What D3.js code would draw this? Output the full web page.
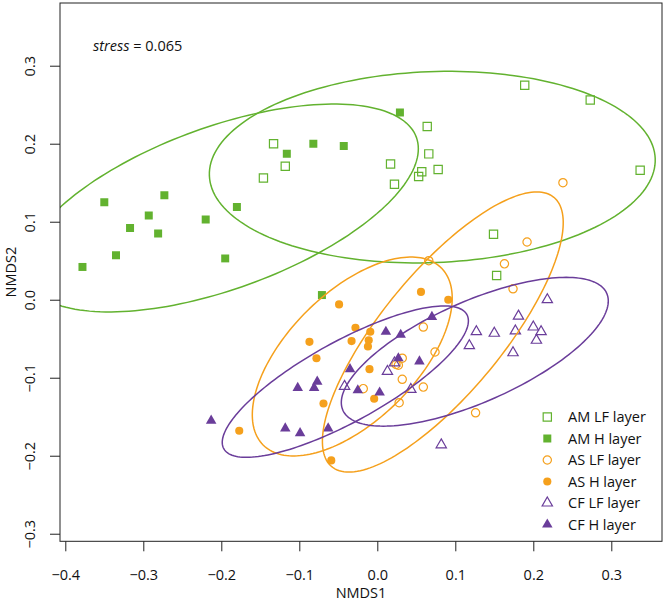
<!DOCTYPE html>
<html><head><meta charset="utf-8">
<script src="https://cdn.jsdelivr.net/npm/d3@7"></script>
<style>body{margin:0;background:#fff}svg{display:block}</style>
</head><body>
<svg id="chart" width="666" height="604"></svg>
<script>
// ---------- data ----------
const groups = ["AM LF layer","AM H layer","AS LF layer","AS H layer","CF LF layer","CF H layer"];

const amLF_x = [-0.133,-0.118,-0.146,0.064,0.066,0.017,0.057,0.053,0.078,0.022,0.189,0.273,0.337,0.149,0.153];
const amLF_y = [0.200,0.171,0.156,0.222,0.187,0.174,0.164,0.158,0.167,0.148,0.275,0.256,0.166,0.084,0.031];

const amH_x = [-0.378,-0.350,-0.335,-0.317,-0.293,-0.281,-0.273,-0.220,-0.195,-0.180,-0.116,-0.082,-0.071,0.029,-0.043];
const amH_y = [0.042,0.125,0.057,0.092,0.108,0.085,0.134,0.103,0.053,0.119,0.187,0.200,0.006,0.240,0.197];

const asLF_x = [0.238,0.192,0.163,0.174,0.066,0.059,0.074,0.032,0.024,0.027,0.032,-0.018,0.059,0.028,0.126];
const asLF_y = [0.150,0.074,0.046,0.014,0.050,-0.035,-0.067,-0.075,-0.083,-0.084,-0.102,-0.114,-0.112,-0.132,-0.145];

const asH_x = [-0.049,-0.087,-0.078,-0.028,-0.009,-0.033,-0.011,-0.012,-0.010,-0.004,-0.069,0.056,0.091,-0.177,-0.059];
const asH_y = [-0.006,-0.054,-0.075,-0.036,-0.041,-0.053,-0.052,-0.060,-0.089,-0.127,-0.133,0.010,0.000,-0.168,-0.206];

const cfLF_x = [0.218,0.181,0.127,0.150,0.177,0.200,0.210,0.118,0.174,0.204,0.022,0.013,-0.042,0.043,0.082];
const cfLF_y = [0.000,-0.021,-0.041,-0.043,-0.040,-0.035,-0.041,-0.059,-0.068,-0.052,-0.081,-0.092,-0.111,-0.115,-0.186];

const cfH_x = [0.070,0.011,0.030,0.027,0.054,-0.035,-0.025,0.003,-0.213,-0.102,-0.077,-0.081,-0.118,-0.099,-0.063];
const cfH_y = [-0.022,-0.041,-0.045,-0.075,-0.079,-0.089,-0.116,-0.119,-0.155,-0.113,-0.105,-0.113,-0.165,-0.171,-0.165];

// ellipse parameters per group (data units): centre, semi-axes, rotation (degrees)
const ellCx    = [0.0705, -0.200, 0.0840, -0.0321, 0.125, -0.041];
const ellCy    = [0.170, 0.1176, -0.0414, -0.0728, -0.0667, -0.105];
const ellA     = [0.286, 0.266, 0.2238, 0.161, 0.185, 0.178];
const ellB     = [0.1224, 0.104, 0.0774, 0.0822, 0.0645, 0.0513];
const ellAngle = [2.2, 19.9, 50.5, 44.75, 23.9, 28.9];

const xTicks = [-0.4,-0.3,-0.2,-0.1,0.0,0.1,0.2,0.3];
const yTicks = [-0.3,-0.2,-0.1,0.0,0.1,0.2,0.3];
const stressValue = 0.065;
const xTitle = "NMDS1", yTitle = "NMDS2";

// ---------- style ----------
const GREEN = "#62b22f", ORANGE = "#f5a01c", PURPLE = "#6a3d9a";
const colors = [GREEN, GREEN, ORANGE, ORANGE, PURPLE, PURPLE];
const shapes = ["square","square","circle","circle","triangle","triangle"];
const filled = [false,true,false,true,false,true];
const FONT = "'Open Sans', 'DejaVu Sans', sans-serif";

const seriesX = [amLF_x, amH_x, asLF_x, asH_x, cfLF_x, cfH_x];
const seriesY = [amLF_y, amH_y, asLF_y, asH_y, cfLF_y, cfH_y];

// ---------- layout ----------
const box = {left: 60, right: 662, top: 3, bottom: 541.3};
const svg = d3.select("#chart");
const x = d3.scaleLinear().domain([-0.4068, 0.365]).range([box.left, box.right]);
const y = d3.scaleLinear().domain([-0.3097, 0.3804]).range([box.bottom, box.top]);

svg.append("defs").append("clipPath").attr("id","plotclip")
  .append("rect").attr("x",box.left).attr("y",box.top)
  .attr("width",box.right-box.left).attr("height",box.bottom-box.top);

function symbolPath(shape, isFilled){
  if (shape === "square") return d3.symbol(d3.symbolSquare, isFilled ? 64 : 68)();
  if (shape === "circle") return d3.symbol(d3.symbolCircle, isFilled ? 52 : 54)();
  return d3.symbol(d3.symbolTriangle, isFilled ? 48 : 46)();
}

// points
const pts = svg.append("g").attr("clip-path","url(#plotclip)");
seriesX.forEach((xs, gi) => {
  const data = xs.map((v,i) => ({x: v, y: seriesY[gi][i]}));
  pts.selectAll(null).data(data).enter().append("path")
    .attr("d", symbolPath(shapes[gi], filled[gi]))
    .attr("transform", d => `translate(${x(d.x)},${y(d.y)})`)
    .attr("fill", filled[gi] ? colors[gi] : "none")
    .attr("stroke", filled[gi] ? "none" : colors[gi])
    .attr("stroke-width", 1.2);
});

// ellipses
const ell = svg.append("g").attr("clip-path","url(#plotclip)");
const line = d3.line().x(d => x(d[0])).y(d => y(d[1]));
groups.forEach((g, gi) => {
  const th = ellAngle[gi] * Math.PI / 180;
  const pts2 = d3.range(0, 361, 2).map(deg => {
    const t = deg * Math.PI / 180;
    const ca = ellA[gi] * Math.cos(t), sb = ellB[gi] * Math.sin(t);
    return [ellCx[gi] + ca*Math.cos(th) - sb*Math.sin(th),
            ellCy[gi] + ca*Math.sin(th) + sb*Math.cos(th)];
  });
  ell.append("path").attr("d", line(pts2) + "Z")
    .attr("fill","none").attr("stroke", colors[gi]).attr("stroke-width", 1.5);
});

// box
svg.append("rect").attr("x",box.left).attr("y",box.top)
  .attr("width",box.right-box.left).attr("height",box.bottom-box.top)
  .attr("fill","none").attr("stroke","#222").attr("stroke-width",1);

const fmt = d3.format(".1f");
// x axis
const gx = svg.append("g").attr("transform",`translate(0,${box.bottom})`)
  .call(d3.axisBottom(x).tickValues(xTicks).tickSize(10).tickPadding(0).tickFormat(fmt));
gx.select(".domain").remove();
gx.selectAll(".tick line").attr("stroke","#222");
gx.selectAll(".tick text").attr("y", 580 - box.bottom).attr("dy", 0)
  .attr("font-family", FONT).attr("font-size", 14.5).attr("fill","#111");

// y axis
const gy = svg.append("g").attr("transform",`translate(${box.left},0)`)
  .call(d3.axisLeft(y).tickValues(yTicks).tickSize(10).tickFormat(fmt));
gy.select(".domain").remove();
gy.selectAll(".tick line").attr("stroke","#222");
gy.selectAll(".tick text").attr("x",0).attr("dy",0).attr("y",0)
  .attr("text-anchor","middle")
  .attr("transform",`translate(${35 - box.left},0) rotate(-90)`)
  .attr("font-family", FONT).attr("font-size", 14.5).attr("fill","#111");

// titles
svg.append("text").attr("x",(box.left+box.right)/2).attr("y",598)
  .attr("text-anchor","middle").attr("font-family",FONT).attr("font-size",14.5)
  .attr("fill","#111").text(xTitle);
svg.append("text").attr("transform",`translate(15.5,${(box.top+box.bottom)/2}) rotate(-90)`)
  .attr("text-anchor","middle").attr("font-family",FONT).attr("font-size",14.5)
  .attr("fill","#111").text(yTitle);

// stress annotation
const st = svg.append("text").attr("x",93).attr("y",50.5)
  .attr("font-family",FONT).attr("font-size",14.5).attr("fill","#111");
st.append("tspan").attr("font-style","italic").text("stress");
st.append("tspan").text(" = " + d3.format(".3f")(stressValue));

// legend
const leg = svg.append("g");
groups.forEach((g, gi) => {
  const cy = 417 + gi * 21.5;
  leg.append("path").attr("d", symbolPath(shapes[gi], filled[gi]))
    .attr("transform",`translate(547.3,${cy})`)
    .attr("fill", filled[gi] ? colors[gi] : "none")
    .attr("stroke", filled[gi] ? "none" : colors[gi])
    .attr("stroke-width", 1.2);
  leg.append("text").attr("x",568).attr("y",cy+5.3)
    .attr("font-family",FONT).attr("font-size",14.5).attr("fill","#111").text(g);
});
</script>
</body></html>
